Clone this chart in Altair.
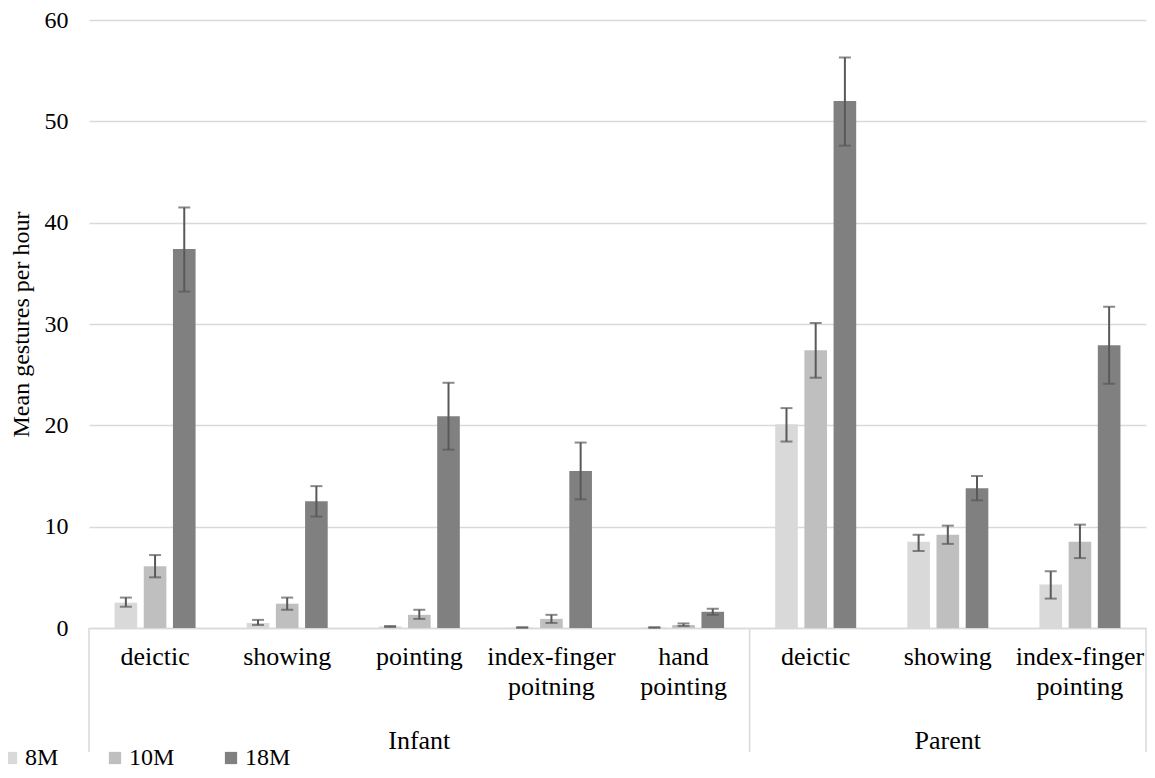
import altair as alt
import pandas as pd

# ---- data ----
groups = ["Infant", "Infant", "Infant", "Infant", "Infant", "Parent", "Parent", "Parent"]
labels = ["deictic", "showing", "pointing", "index-finger~poitning", "hand~pointing",
          "deictic", "showing", "index-finger~pointing"]
ages = ["8M", "10M", "18M"]

mean_8m = [2.5, 0.5, 0.15, 0.05, 0.05, 20.1, 8.5, 4.3]
lo_8m = [2.1, 0.3, 0.1, 0.03, 0.03, 18.4, 7.6, 2.9]
hi_8m = [3.0, 0.8, 0.2, 0.07, 0.07, 21.7, 9.2, 5.6]

mean_10m = [6.1, 2.4, 1.3, 0.9, 0.3, 27.4, 9.2, 8.5]
lo_10m = [5.0, 1.8, 0.9, 0.5, 0.2, 24.7, 8.3, 6.9]
hi_10m = [7.2, 3.0, 1.8, 1.3, 0.45, 30.1, 10.1, 10.2]

mean_18m = [37.4, 12.5, 20.9, 15.5, 1.6, 52.0, 13.8, 27.9]
lo_18m = [33.2, 11.0, 17.6, 12.7, 1.3, 47.6, 12.6, 24.1]
hi_18m = [41.5, 14.0, 24.2, 18.3, 1.9, 56.3, 15.0, 31.7]

group_names = ["Infant", "Parent"]
group_centers = ["Infant|pointing", "Parent|showing"]

colors = ["#d9d9d9", "#bfbfbf", "#808080"]

# ---- table ----
cats = [f"{g}|{l}" for g, l in zip(groups, labels)]
rows = []
for age, means, los, his in [("8M", mean_8m, lo_8m, hi_8m),
                             ("10M", mean_10m, lo_10m, hi_10m),
                             ("18M", mean_18m, lo_18m, hi_18m)]:
    for c, m, lo, hi in zip(cats, means, los, his):
        rows.append({"cat": c, "age": age, "mean": m, "lo": lo, "hi": hi})
df = pd.DataFrame(rows)

FONT = "Liberation Serif, Times New Roman, serif"
W, H = 1057, 608
TITLE = "Mean gestures per hour"

xscale = alt.Scale(domain=cats, paddingInner=0, paddingOuter=0)
yscale = alt.Scale(domain=[0, 60])
xaxis = alt.Axis(labelExpr="split(split(datum.value, '|')[1], '~')",
                 labelAngle=0, labelFont=FONT, labelFontSize=26,
                 labelColor="#000000", labelPadding=15, labelLineHeight=30,
                 labelBaseline="top", labelOverlap=False, labelLimit=0,
                 ticks=False, domain=True,
                 domainColor="#d9d9d9", domainWidth=1.5, grid=False)
yaxis = alt.Axis(values=[0, 10, 20, 30, 40, 50, 60], labelFont=FONT, labelFontSize=24,
                 labelColor="#000000", titleFont=FONT, titleFontSize=24,
                 titleColor="#000000", titleFontWeight="normal", titlePadding=11,
                 domain=False, ticks=False, tickSize=0, labelPadding=21,
                 grid=True, gridColor="#d9d9d9", gridWidth=1.5)


def X(**kw):
    return alt.X("cat:N", scale=xscale, axis=xaxis, title=None, **kw)


def Y(field):
    return alt.Y(field, scale=yscale, axis=yaxis, title=TITLE)


xoff = alt.XOffset("age:N", scale=alt.Scale(domain=ages, paddingInner=0.225, paddingOuter=0.875))

bars = alt.Chart(df).mark_bar().encode(
    x=X(),
    xOffset=xoff,
    y=Y("mean:Q"),
    color=alt.Color("age:N", scale=alt.Scale(domain=ages, range=colors),
                    legend=alt.Legend(title=None, orient="none", direction="horizontal",
                                      legendX=-90, legendY=726, padding=0,
                                      symbolType="square",
                                      symbolSize=150, symbolStrokeWidth=0,
                                      labelFont=FONT, labelFontSize=24, labelColor="#000000",
                                      labelOffset=2, columnPadding=44)),
)

err = alt.Chart(df).mark_rule(color="#595959", strokeWidth=2).encode(
    x=X(), xOffset=xoff, y=Y("lo:Q"), y2="hi:Q",
)
cap_lo = alt.Chart(df).mark_tick(color="#595959", orient="horizontal", size=12, thickness=2).encode(
    x=X(), xOffset=xoff, y=Y("lo:Q"),
)
cap_hi = alt.Chart(df).mark_tick(color="#595959", orient="horizontal", size=12, thickness=2).encode(
    x=X(), xOffset=xoff, y=Y("hi:Q"),
)

div_left = alt.Chart(pd.DataFrame({"cat": [cats[0], cats[5]]})).mark_rule(
    color="#d9d9d9", strokeWidth=1.5).encode(
    x=X(bandPosition=0),
    y=alt.value(H), y2=alt.value(H + 124),
)
div_right = alt.Chart(pd.DataFrame({"cat": [cats[-1]]})).mark_rule(
    color="#d9d9d9", strokeWidth=1.5).encode(
    x=X(bandPosition=1),
    y=alt.value(H), y2=alt.value(H + 124),
)

grp_text = alt.Chart(pd.DataFrame({"cat": group_centers, "name": group_names})).mark_text(
    font=FONT, fontSize=26, color="#000000", baseline="middle", align="center").encode(
    x=X(),
    y=alt.value(H + 113),
    text="name:N",
)

chart = alt.layer(bars, err, cap_lo, cap_hi, div_left, div_right, grp_text).properties(
    width=W, height=H,
    autosize=alt.AutoSizeParams(type="none"),
    padding={"left": 81, "top": 12, "right": 1, "bottom": 142},
).configure_view(stroke=None)

chart.save("out.html", embed_options={"renderer": "svg", "actions": False})
